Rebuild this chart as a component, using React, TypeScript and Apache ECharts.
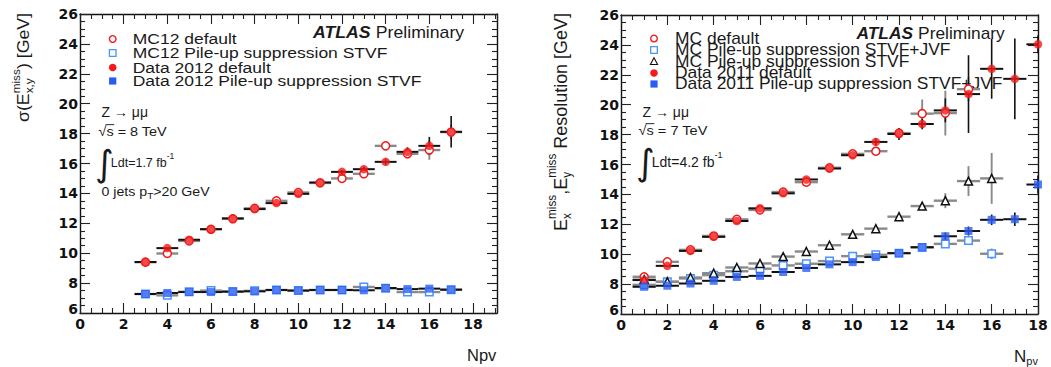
import React, { useEffect, useRef } from "react";
import * as echarts from "echarts";

const FONT = "'Liberation Sans', Arial, Helvetica, sans-serif";
const AXFONT = "'DejaVu Sans', sans-serif";

// ---------------- Left panel: Z->mumu, sqrt(s)=8 TeV ----------------
const leftNpv = [3, 4, 5, 6, 7, 8, 9, 10, 11, 12, 13, 14, 15, 16, 17];
const leftMC12Default = [9.4, 9.98, 10.82, 11.6, 12.3, 13.0, 13.5, 14.06, 14.7, 15.0, 15.31, 17.18, 16.65, 16.9, 18.1];
const leftMC12DefaultErr = [0.05, 0.1, 0.1, 0.1, 0.1, 0.12, 0.12, 0.15, 0.15, 0.15, 0.2, 0.3, 0.3, 0.65, 0.5];
const leftMC12STVF = [7.27, 7.18, 7.42, 7.5, 7.43, 7.48, 7.54, 7.5, 7.54, 7.54, 7.74, 7.65, 7.4, 7.4, 7.56];
const leftMC12STVFErr = [0.04, 0.05, 0.05, 0.05, 0.05, 0.05, 0.05, 0.05, 0.05, 0.05, 0.06, 0.06, 0.07, 0.08, 0.1];
const leftData2012Default = [9.41, 10.34, 10.9, 11.61, 12.33, 12.95, 13.35, 13.97, 14.73, 15.44, 15.62, 16.11, 16.78, 17.18, 18.12];
const leftData2012DefaultErr = [0.05, 0.07, 0.08, 0.08, 0.1, 0.1, 0.12, 0.12, 0.15, 0.15, 0.18, 0.2, 0.3, 0.6, 1.05];
const leftData2012STVF = [7.27, 7.34, 7.4, 7.4, 7.43, 7.45, 7.54, 7.5, 7.54, 7.54, 7.52, 7.67, 7.6, 7.63, 7.56];
const leftData2012STVFErr = [0.04, 0.04, 0.04, 0.04, 0.04, 0.04, 0.05, 0.05, 0.05, 0.05, 0.05, 0.06, 0.06, 0.07, 0.08];

// ---------------- Right panel: Z->mumu, sqrt(s)=7 TeV ----------------
const rightNpvAll = [1, 2, 3, 4, 5, 6, 7, 8, 9, 10, 11, 12, 13, 14, 15, 16, 17, 18];
const rightNpvMCDefault = [1, 2, 3, 4, 5, 6, 7, 8, 9, 10, 11, 12, 13, 14, 15];
const rightNpvMC = [1, 2, 3, 4, 5, 6, 7, 8, 9, 10, 11, 12, 13, 14, 15, 16];
const rightMCDefault = [8.49, 9.49, 10.29, 11.22, 12.33, 12.96, 14.16, 14.82, 15.78, 16.71, 16.89, 18.1, 19.4, 19.44, 21.04];
const rightMCDefaultErr = [0.05, 0.06, 0.07, 0.08, 0.1, 0.1, 0.12, 0.15, 0.15, 0.2, 0.25, 0.3, 0.95, 1.5, 0.8];
const rightMCJVF = [7.95, 8.15, 8.38, 8.6, 8.86, 9.03, 9.25, 9.36, 9.54, 9.87, 9.96, 10.07, 10.45, 10.69, 10.91, 10.03];
const rightMCJVFErr = [0.04, 0.04, 0.05, 0.05, 0.06, 0.07, 0.08, 0.08, 0.1, 0.1, 0.1, 0.1, 0.12, 0.15, 0.3, 0.35];
const rightMCSTVF = [8.3, 8.16, 8.44, 8.73, 9.11, 9.38, 9.84, 10.18, 10.6, 11.33, 11.71, 12.51, 13.22, 13.58, 14.89, 15.07];
const rightMCSTVFErr = [0.05, 0.05, 0.06, 0.07, 0.08, 0.1, 0.12, 0.12, 0.15, 0.15, 0.2, 0.2, 0.25, 0.5, 1.0, 1.7];
const rightData2011Default = [8.27, 9.22, 10.22, 11.16, 12.22, 13.07, 14.07, 15.0, 15.73, 16.62, 17.51, 18.04, 18.71, 19.62, 20.71, 22.4, 21.73, 24.04];
const rightData2011DefaultErr = [0.05, 0.06, 0.07, 0.08, 0.1, 0.1, 0.12, 0.15, 0.2, 0.2, 0.25, 0.4, 0.35, 0.8, 2.6, 2.0, 2.7, 0.6];
const rightData2011JVF = [7.82, 7.89, 8.04, 8.22, 8.48, 8.55, 8.81, 9.08, 9.32, 9.47, 9.81, 10.07, 10.47, 11.2, 11.55, 12.3, 12.34, 14.66];
const rightData2011JVFErr = [0.04, 0.04, 0.05, 0.05, 0.06, 0.07, 0.08, 0.08, 0.1, 0.1, 0.12, 0.12, 0.15, 0.25, 0.3, 0.35, 0.45, 0.6];

// ---------------- axis ranges / ticks ----------------
const xMaxLeft = 19.1;
const xMaxRight = 18;
const yMin = 6;
const yMax = 26;
const majorStep = 2;

const leftNames = ["MC12 default", "MC12 Pile-up suppression STVF", "Data 2012 default", "Data 2012 Pile-up suppression STVF"];
const rightNames = ["MC default", "MC Pile-up suppression STVF+JVF", "MC Pile-up suppression STVF", "Data 2011 default", "Data 2011 Pile-up suppression STVF+JVF"];

const RED = "#f21a1a";
const BLUE = "#2a5cf2";
const LBLUE = "#4b93ff";
const BLACK = "#111";
const GREY = "#8a8a8a";

let ctx: CanvasRenderingContext2D | null = null;
function tw(text: string, size: number, family = FONT, weight = "normal", style = "normal") {
  if (!ctx) ctx = document.createElement("canvas").getContext("2d");
  ctx!.font = `${style} ${weight} ${size}px ${family}`;
  return ctx!.measureText(text).width;
}

type Piece = { t: string; size: number; dy?: number; weight?: string; style?: string; family?: string; stack?: boolean; gap?: number };

function layout(pieces: Piece[], color = "#1a1a1a") {
  const children: any[] = [];
  let x = 0;
  let prevStart = 0;
  let prevW = 0;
  for (const p of pieces) {
    const fam = p.family || FONT;
    const w = tw(p.t, p.size, fam, p.weight || "normal", p.style || "normal");
    let start = x + (p.gap || 0);
    if (p.stack) {
      start = prevStart;
      x = prevStart + Math.max(prevW, w);
    } else {
      x = start + w;
    }
    children.push({
      type: "text",
      x: start,
      y: p.dy || 0,
      style: {
        text: p.t,
        fontSize: p.size,
        fontFamily: fam,
        fontWeight: p.weight || "normal",
        fontStyle: p.style || "normal",
        fill: color,
        align: "left",
        verticalAlign: "middle",
        textAlign: "left",
        textVerticalAlign: "middle",
      },
    });
    prevStart = start;
    prevW = w;
  }
  return { children, width: x };
}

function textGroup(x: number, y: number, pieces: Piece[], scaleX = 1, scaleY = 1) {
  const { children } = layout(pieces);
  return { type: "group", x, y, scaleX, scaleY, children, silent: true };
}

// sqrt(s) = N TeV with an overline on the s
function sqrtGroup(x: number, y: number, energy: string, size: number, sx: number) {
  const wRoot = tw("\u221A", size);
  const wS = tw("s", size);
  const { children } = layout([{ t: "\u221As = " + energy + " TeV", size }]);
  children.push({ type: "line", shape: { x1: wRoot - 0.8, y1: -0.47 * size, x2: wRoot + wS + 0.5, y2: -0.47 * size }, style: { stroke: "#1a1a1a", lineWidth: 0.9 } });
  return { type: "group", x, y, scaleX: sx, children, silent: true };
}

function vTitle(x: number, yTop: number, L: number, pieces: Piece[], scaleY = 1) {
  const { children, width } = layout(pieces);
  const s = L / width;
  children.forEach((c) => (c.x -= width));
  return { type: "group", x, y: yTop, rotation: Math.PI / 2, scaleX: s, scaleY, children, silent: true };
}

function errRender(color: string, width: number) {
  return (params: any, api: any) => {
    const x = api.value(0);
    const y = api.value(1);
    const e = api.value(2);
    const cs = params.coordSys;
    const cx = (v: number) => Math.max(cs.x, Math.min(cs.x + cs.width, v));
    const cy = (v: number) => Math.max(cs.y, Math.min(cs.y + cs.height, v));
    const l = api.coord([x - 0.5, y]);
    const r = api.coord([x + 0.5, y]);
    const t = api.coord([x, y + e]);
    const b = api.coord([x, y - e]);
    const children: any[] = [
      { type: "line", shape: { x1: cx(l[0]), y1: l[1], x2: cx(r[0]), y2: r[1] }, style: { stroke: color, lineWidth: width } },
    ];
    if (e > 0.12) {
      children.push({ type: "line", shape: { x1: t[0], y1: cy(t[1]), x2: b[0], y2: cy(b[1]) }, style: { stroke: color, lineWidth: width * 0.8 } });
    }
    return { type: "group", children };
  };
}

function errSeries(xs: number[], ys: number[], es: number[], color: string, width: number, axis: number, z: number) {
  return {
    type: "custom",
    xAxisIndex: axis * 2,
    yAxisIndex: axis * 2,
    renderItem: errRender(color, width),
    encode: { x: 0, y: 1 },
    data: xs.map((x, i) => [x, ys[i], es[i]]),
    z,
    silent: true,
  };
}

function markerSeries(name: string, xs: number[], ys: number[], symbol: string, filled: boolean, color: string, size: number, axis: number, z: number) {
  return {
    type: "scatter",
    name,
    xAxisIndex: axis * 2,
    yAxisIndex: axis * 2,
    symbol,
    symbolSize: size,
    data: xs.map((x, i) => [x, ys[i]]),
    itemStyle: filled ? { color } : { color: "#fff", borderColor: color, borderWidth: 1.5, opacity: 1 },
    z,
    silent: true,
  };
}

function axisCommon() {
  return {
    axisLine: { show: true, onZero: false, lineStyle: { color: "#111", width: 1.4 } },
    axisTick: { show: true, inside: true, length: 10, lineStyle: { color: "#222", width: 1.1 } },
    minorTick: { show: true, splitNumber: 4, length: 5, lineStyle: { color: "#222", width: 1.1 } },
    splitLine: { show: false },
  };
}

function axesFor(grid: number, xMax: number) {
  const xa = (pos: string, labels: boolean) => ({
    type: "value",
    gridIndex: grid,
    min: 0,
    max: xMax,
    interval: majorStep,
    position: pos,
    ...axisCommon(),
    axisLabel: labels
      ? { show: true, showMaxLabel: xMax % majorStep === 0, margin: 4, fontSize: 14, fontWeight: "bold", fontFamily: AXFONT, color: "#111" }
      : { show: false },
  });
  const ya = (pos: string, labels: boolean) => ({
    type: "value",
    gridIndex: grid,
    min: yMin,
    max: yMax,
    interval: majorStep,
    position: pos,
    ...axisCommon(),
    axisLabel: labels
      ? {
          show: true,
          margin: 2,
          fontSize: 14,
          fontWeight: "bold",
          fontFamily: AXFONT,
          color: "#111",
          formatter: (v: number) => (v === yMin ? "{low|" + v + "}" : String(v)),
          rich: { low: { fontSize: 14, fontWeight: "bold", fontFamily: AXFONT, color: "#111", padding: [0, 0, 8, 0] } },
        }
      : { show: false },
  });
  return {
    x: [xa("bottom", true), xa("top", false)],
    y: [ya("left", true), ya("right", false)],
  };
}

function legendRow(x: number, y: number, kind: string, color: string, textX: number, label: string, size: number, sx: number) {
  let marker: any;
  if (kind === "circleOpen") marker = { type: "circle", shape: { cx: x, cy: y, r: 3.3 }, style: { fill: "#fff", stroke: color, lineWidth: 1.4 } };
  else if (kind === "circle") marker = { type: "circle", shape: { cx: x, cy: y, r: 3.8 }, style: { fill: color } };
  else if (kind === "squareOpen") marker = { type: "rect", shape: { x: x - 3.3, y: y - 3.3, width: 6.6, height: 6.6 }, style: { fill: "#fff", stroke: color, lineWidth: 1.3 } };
  else if (kind === "square") marker = { type: "rect", shape: { x: x - 3.6, y: y - 3.6, width: 7.2, height: 7.2 }, style: { fill: color } };
  else marker = { type: "polygon", shape: { points: [[x, y - 3.8], [x + 3.6, y + 3], [x - 3.6, y + 3]] }, style: { fill: "#fff", stroke: color, lineWidth: 1.1 } };
  marker.silent = true;
  return [marker, textGroup(textX, y, [{ t: label, size }], sx)];
}

function buildOption() {
  const A = axesFor(0, xMaxLeft);
  const B = axesFor(1, xMaxRight);

  const series: any[] = [
    errSeries(leftNpv, leftMC12Default, leftMC12DefaultErr, GREY, 2.4, 0, 1),
    errSeries(leftNpv, leftMC12STVF, leftMC12STVFErr, GREY, 2.4, 0, 1),
    errSeries(leftNpv, leftData2012Default, leftData2012DefaultErr, BLACK, 2, 0, 2),
    errSeries(leftNpv, leftData2012STVF, leftData2012STVFErr, BLACK, 2, 0, 2),
    markerSeries(leftNames[0], leftNpv, leftMC12Default, "circle", false, RED, 8, 0, 3),
    markerSeries(leftNames[1], leftNpv, leftMC12STVF, "rect", false, LBLUE, 7.5, 0, 3),
    markerSeries(leftNames[2], leftNpv, leftData2012Default, "circle", true, RED, 8.5, 0, 4),
    markerSeries(leftNames[3], leftNpv, leftData2012STVF, "rect", true, BLUE, 8, 0, 4),
    errSeries(rightNpvMCDefault, rightMCDefault, rightMCDefaultErr, GREY, 2.4, 1, 1),
    errSeries(rightNpvMC, rightMCJVF, rightMCJVFErr, GREY, 2.4, 1, 1),
    errSeries(rightNpvMC, rightMCSTVF, rightMCSTVFErr, GREY, 2.4, 1, 1),
    errSeries(rightNpvAll, rightData2011Default, rightData2011DefaultErr, BLACK, 2, 1, 2),
    errSeries(rightNpvAll, rightData2011JVF, rightData2011JVFErr, BLACK, 2, 1, 2),
    markerSeries(rightNames[0], rightNpvMCDefault, rightMCDefault, "circle", false, RED, 8, 1, 3),
    markerSeries(rightNames[1], rightNpvMC, rightMCJVF, "rect", false, LBLUE, 7.5, 1, 3),
    markerSeries(rightNames[2], rightNpvMC, rightMCSTVF, "triangle", false, "#111", 8, 1, 3),
    markerSeries(rightNames[3], rightNpvAll, rightData2011Default, "circle", true, RED, 8.5, 1, 4),
    markerSeries(rightNames[4], rightNpvAll, rightData2011JVF, "rect", true, BLUE, 8, 1, 4),
  ];

  const graphic: any[] = [];
  graphic.push(textGroup(313, 32, [{ t: "ATLAS", size: 17, weight: "bold", style: "italic" }, { t: "Preliminary", size: 17, gap: 5 }], 1.04));
  graphic.push(textGroup(856.5, 33, [{ t: "ATLAS", size: 17, weight: "bold", style: "italic" }, { t: "Preliminary", size: 17, gap: 5 }], 1.02));

  const lk = ["circleOpen", "squareOpen", "circle", "square"];
  const lc = [RED, LBLUE, RED, BLUE];
  const ly = [39, 53, 67.5, 81];
  leftNames.forEach((n, i) => graphic.push(...legendRow(112.7, ly[i], lk[i], lc[i], 132.7, n, 15.5, 1.13)));
  const rk = ["circleOpen", "squareOpen", "triangle", "circle", "square"];
  const rc = [RED, LBLUE, "#111", RED, BLUE];
  const ry = [38.5, 50, 61.5, 73, 84];
  rightNames.forEach((n, i) => graphic.push(...legendRow(654, ry[i], rk[i], rc[i], 675, n, 16, 1.09)));

  graphic.push(textGroup(101.5, 112, [{ t: "Z \u2192 \u03bc\u03bc", size: 14 }], 1.0));
  graphic.push(sqrtGroup(98.5, 131, "8", 13.5, 1.07));
  graphic.push(textGroup(95, 163, [{ t: "\u222B", size: 36, family: "'DejaVu Sans', sans-serif" }, { t: "Ldt=1.7 fb", size: 12.5, gap: -3 }, { t: "-1", size: 8.5, dy: -7 }], 1.0));
  graphic.push(textGroup(101.5, 191, [{ t: "0 jets p", size: 13.5 }, { t: "T", size: 9.5, dy: 5 }, { t: ">20 GeV", size: 13.5 }], 1.05));

  graphic.push(textGroup(642.5, 112, [{ t: "Z \u2192 \u03bc\u03bc", size: 14 }], 1.0));
  graphic.push(sqrtGroup(638.5, 130, "7", 13.5, 1.08));
  graphic.push(textGroup(636, 162, [{ t: "\u222B", size: 36, family: "'DejaVu Sans', sans-serif" }, { t: "Ldt=4.2 fb", size: 14, gap: -3 }, { t: "-1", size: 9, dy: -7 }], 1.0));

  graphic.push(textGroup(467, 355, [{ t: "Npv", size: 16.5 }], 1.0));
  graphic.push(textGroup(1014, 356, [{ t: "N", size: 17 }, { t: "pv", size: 11, dy: 5 }], 1.0));

  graphic.push(
    vTitle(23, 13, 109, [
      { t: "\u03c3(E", size: 15 },
      { t: "miss", size: 10, dy: -6.5 },
      { t: "x,y", size: 10, dy: 5.5, stack: true },
      { t: ") [GeV]", size: 15 },
    ], 1.12)
  );
  graphic.push(
    vTitle(560, 13, 218, [
      { t: "E", size: 17.5 },
      { t: "miss", size: 11.5, dy: -7.5 },
      { t: "x", size: 11.5, dy: 6.5, stack: true },
      { t: ",E", size: 17.5 },
      { t: "miss", size: 11.5, dy: -7.5 },
      { t: "y", size: 11.5, dy: 6.5, stack: true },
      { t: " Resolution [GeV]", size: 17.5 },
    ], 1.1)
  );

  return {
    animation: false,
    backgroundColor: "#fff",
    grid: [
      { left: 80, top: 14, width: 417, height: 299 },
      { left: 621, top: 15, width: 417, height: 299 },
    ],
    xAxis: [...A.x, ...B.x],
    yAxis: [...A.y, ...B.y],
    series,
    graphic,
  };
}

export default function App() {
  const ref = useRef<HTMLDivElement>(null);
  useEffect(() => {
    const chart = echarts.init(ref.current!, undefined, { renderer: "svg" });
    chart.setOption(buildOption() as any);
    return () => chart.dispose();
  }, []);
  return <div ref={ref} style={{ position: "absolute", left: 0, top: 0, width: 1051, height: 367 }} />;
}
